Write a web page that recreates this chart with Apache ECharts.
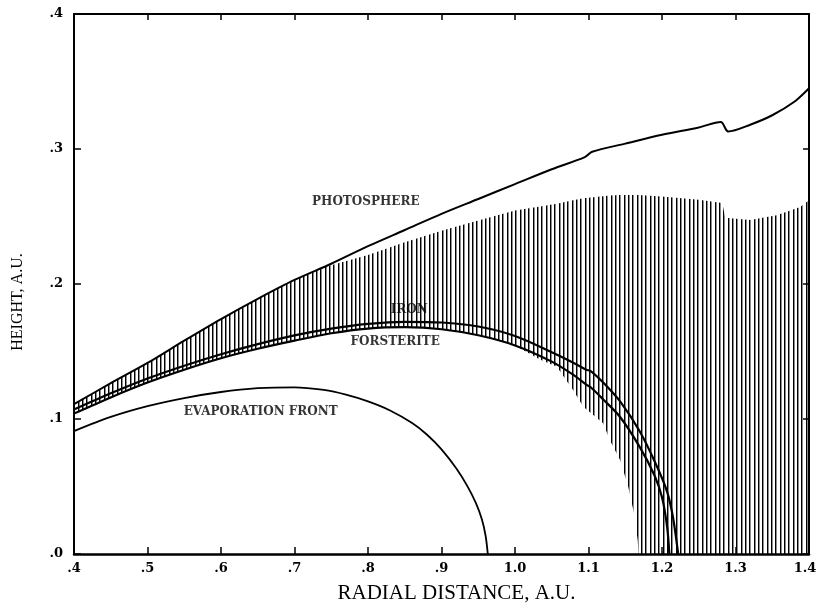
<!DOCTYPE html>
<html>
<head>
<meta charset="utf-8">
<script src="https://cdn.jsdelivr.net/npm/echarts@6/dist/echarts.min.js"></script>
<style>
html,body{margin:0;padding:0;background:#fff;}
#chart{width:817px;height:608px;}
</style>
</head>
<body>
<div id="chart"></div>
<script>
// ---- data ----
var xTicks = [0.4, 0.5, 0.6, 0.7, 0.8, 0.9, 1.0, 1.1, 1.2, 1.3, 1.4];
var yTicks = [0.0, 0.1, 0.2, 0.3, 0.4];

var photoX = [0.40, 0.45, 0.50, 0.55, 0.60, 0.65, 0.70, 0.75, 0.80, 0.85, 0.90, 0.95, 1.00, 1.05, 1.095, 1.105, 1.15, 1.20, 1.25, 1.28, 1.29, 1.32, 1.35, 1.38, 1.40];
var photoY = [0.111, 0.1265, 0.1415, 0.158, 0.174, 0.189, 0.203, 0.215, 0.228, 0.240, 0.252, 0.263, 0.274, 0.285, 0.294, 0.298, 0.304, 0.3105, 0.316, 0.320, 0.313, 0.318, 0.325, 0.335, 0.345];

var ironX = [0.40, 0.45, 0.50, 0.55, 0.60, 0.65, 0.70, 0.75, 0.80, 0.85, 0.90, 0.95, 1.00, 1.05, 1.08, 1.097, 1.103, 1.12, 1.143, 1.17, 1.193, 1.207, 1.215, 1.222];
var ironY = [0.107, 0.119, 0.130, 0.1395, 0.148, 0.1555, 0.162, 0.167, 0.1705, 0.172, 0.1715, 0.1685, 0.1615, 0.1495, 0.1415, 0.1365, 0.1355, 0.127, 0.113, 0.0905, 0.065, 0.046, 0.027, 0.0];

var forstX = [0.40, 0.45, 0.50, 0.55, 0.60, 0.65, 0.70, 0.75, 0.80, 0.85, 0.90, 0.95, 1.00, 1.05, 1.08, 1.097, 1.103, 1.12, 1.143, 1.17, 1.19, 1.20, 1.207, 1.21];
var forstY = [0.104, 0.116, 0.127, 0.1365, 0.145, 0.152, 0.158, 0.1635, 0.167, 0.168, 0.1665, 0.162, 0.1545, 0.1425, 0.1325, 0.1255, 0.1235, 0.1145, 0.1015, 0.079, 0.058, 0.042, 0.02, 0.0];

var evapX = [0.40, 0.45, 0.50, 0.55, 0.60, 0.65, 0.70, 0.74, 0.77, 0.80, 0.83, 0.86, 0.88, 0.90, 0.92, 0.935, 0.947, 0.955, 0.960, 0.963];
var evapY = [0.091, 0.1015, 0.1095, 0.1155, 0.1200, 0.1228, 0.1235, 0.1215, 0.1180, 0.1130, 0.1063, 0.0970, 0.0885, 0.0775, 0.0635, 0.0505, 0.0375, 0.0255, 0.0135, 0.0];

var hatchX = [0.40, 0.45, 0.50, 0.55, 0.60, 0.65, 0.70, 0.74, 0.80, 0.85, 0.90, 0.95, 1.00, 1.034, 1.057, 1.079, 1.093, 1.12, 1.129, 1.143, 1.154, 1.162, 1.167, 1.168, 1.20, 1.25, 1.282, 1.286, 1.32, 1.356, 1.388, 1.40];
var hatchTop = [0.111, 0.1265, 0.1415, 0.158, 0.174, 0.189, 0.203, 0.2125, 0.2215, 0.231, 0.2395, 0.247, 0.2545, 0.2575, 0.2595, 0.262, 0.2635, 0.265, 0.2655, 0.266, 0.266, 0.266, 0.266, 0.266, 0.2648, 0.2625, 0.260, 0.249, 0.2474, 0.251, 0.257, 0.262];
var hatchBottom = [0.104, 0.116, 0.127, 0.1365, 0.145, 0.152, 0.158, 0.1625, 0.167, 0.168, 0.1665, 0.162, 0.1545, 0.144, 0.1387, 0.1215, 0.109, 0.0968, 0.0844, 0.0696, 0.050, 0.030, 0.010, 0.0, 0.0, 0.0, 0.0, 0.0, 0.0, 0.0, 0.0, 0.0];

var labelNames = ['PHOTOSPHERE', 'IRON', 'FORSTERITE', 'EVAPORATION FRONT'];
var labelX = [0.797, 0.856, 0.837, 0.654];
var labelY = [0.2607, 0.1807, 0.157, 0.1052];

// ---- helpers ----
function zip(xs, ys) { return xs.map(function (x, i) { return [x, ys[i]]; }); }
function tickFmt(v) { return (Math.round(v * 10) / 10).toFixed(1).replace(/^0/, ''); }
function xTickFmt(v) {
  var s = tickFmt(v);
  return Math.abs(v - xTicks[xTicks.length - 1]) < 1e-9 ? '{m|' + s + '}' : s;
}

var hatchCanvas = document.createElement('canvas');
hatchCanvas.width = 13; hatchCanvas.height = 4;
(function () {
  var c = hatchCanvas.getContext('2d');
  var xs = [0, 4, 8];
  xs.forEach(function (x) {
    c.fillStyle = '#000';
    c.fillRect(x, 0, 1, 4);
    c.fillStyle = 'rgba(0,0,0,0.45)';
    c.fillRect(x + 1, 0, 1, 4);
  });
})();

var chart = echarts.init(document.getElementById('chart'), null, { renderer: 'canvas' });

var tickFont = { fontFamily: 'DejaVu Serif', fontWeight: 'bold', fontSize: 13, color: '#000' };
var lineBase = { type: 'line', symbol: 'none', silent: true, smooth: 0.3 };

var option = {
  animation: false,
  backgroundColor: '#fff',
  grid: { left: 74, right: 8, top: 14, bottom: 54, containLabel: false, outerBoundsMode: 'none' },
  xAxis: [{
    type: 'value', min: 0.4, max: 1.4, interval: 0.1,
    position: 'bottom',
    name: 'RADIAL DISTANCE, A.U.', nameLocation: 'middle', nameGap: 29,
    nameTextStyle: { fontFamily: 'Liberation Serif', fontSize: 21, color: '#000', padding: [0, 0, 0, 30] },
    axisLine: { show: true, onZero: false, lineStyle: { color: '#000', width: 2.5 } },
    axisTick: { show: true, inside: true, length: 7, lineStyle: { color: '#000', width: 1.5 } },
    axisLabel: Object.assign({
      margin: 8, formatter: xTickFmt,
      rich: { m: Object.assign({ padding: [0, 8, 0, 0] }, tickFont) }
    }, tickFont),
    splitLine: { show: false }
  }, {
    type: 'value', min: 0.4, max: 1.4, interval: 0.1,
    position: 'top',
    axisLine: { show: true, onZero: false, lineStyle: { color: '#000', width: 2 } },
    axisTick: { show: true, inside: true, length: 6, lineStyle: { color: '#000', width: 1.5 } },
    axisLabel: { show: false },
    splitLine: { show: false }
  }],
  yAxis: [{
    type: 'value', min: 0, max: 0.4, interval: 0.1,
    position: 'left',
    name: 'HEIGHT, A.U.', nameLocation: 'middle', nameGap: 48, nameRotate: 90,
    nameTextStyle: { fontFamily: 'Liberation Serif', fontSize: 16, color: '#000', padding: [0, 36, 0, 0] },
    axisLine: { show: true, onZero: false, lineStyle: { color: '#000', width: 2 } },
    axisTick: { show: true, inside: true, length: 7, lineStyle: { color: '#000', width: 1.5 } },
    axisLabel: Object.assign({ margin: 11, formatter: tickFmt }, tickFont),
    splitLine: { show: false }
  }, {
    type: 'value', min: 0, max: 0.4, interval: 0.1,
    position: 'right',
    axisLine: { show: true, onZero: false, lineStyle: { color: '#000', width: 2 } },
    axisTick: { show: true, inside: true, length: 6, lineStyle: { color: '#000', width: 1.5 } },
    axisLabel: { show: false },
    splitLine: { show: false }
  }],
  series: [
    {
      type: 'custom', name: 'hatch', silent: true, z: 1,
      data: hatchX.map(function (x, i) { return [x, hatchBottom[i], hatchTop[i]]; }),
      encode: { x: 0, y: [1, 2] },
      renderItem: function (params, api) {
        if (params.dataIndex !== 0) { return; }
        var pts = [];
        var i;
        for (i = 0; i < hatchX.length; i++) { pts.push(api.coord([hatchX[i], hatchTop[i]])); }
        for (i = hatchX.length - 1; i >= 0; i--) { pts.push(api.coord([hatchX[i], hatchBottom[i]])); }
        return {
          type: 'polygon',
          shape: { points: pts },
          style: { fill: { image: hatchCanvas, repeat: 'repeat' }, stroke: null, opacity: 1 }
        };
      }
    },
    Object.assign({}, lineBase, {
      name: 'PHOTOSPHERE', data: zip(photoX, photoY),
      lineStyle: { color: '#000', width: 2 }, z: 3
    }),
    Object.assign({}, lineBase, {
      name: 'IRON', data: zip(ironX, ironY),
      lineStyle: { color: '#000', width: 2.2 }, z: 3
    }),
    Object.assign({}, lineBase, {
      name: 'FORSTERITE', data: zip(forstX, forstY),
      lineStyle: { color: '#000', width: 2.2 }, z: 3
    }),
    Object.assign({}, lineBase, {
      name: 'EVAPORATION FRONT', data: zip(evapX, evapY),
      lineStyle: { color: '#000', width: 1.8 }, z: 3
    }),
    {
      type: 'scatter', name: 'labels', silent: true, symbolSize: 0, z: 4,
      data: labelNames.map(function (n, i) { return { name: n, value: [labelX[i], labelY[i]] }; }),
      label: {
        show: true, position: 'inside', formatter: '{b}',
        fontFamily: 'DejaVu Serif', fontWeight: 'bold', fontSize: 12, color: '#000'
      }
    }
  ]
};
chart.setOption(option);
</script>
</body>
</html>
